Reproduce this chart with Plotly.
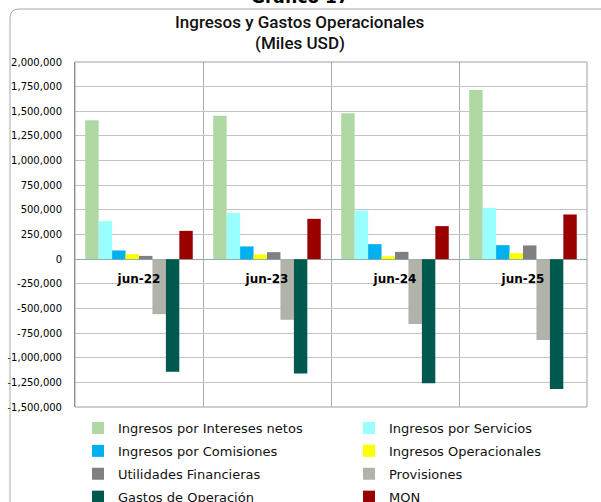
import plotly.graph_objects as go

categories = ["jun-22", "jun-23", "jun-24", "jun-25"]

series_names = [
    "Ingresos por Intereses netos",
    "Ingresos por Servicios",
    "Ingresos por Comisiones",
    "Ingresos Operacionales",
    "Utilidades Financieras",
    "Provisiones",
    "Gastos de Operación",
    "MON",
]

intereses_netos = [1410000, 1455000, 1480000, 1715000]
servicios = [385000, 470000, 494000, 520000]
comisiones = [88000, 129000, 152000, 142000]
operacionales = [50000, 48000, 30000, 61000]
utilidades_fin = [33000, 71000, 74000, 139000]
provisiones = [-558000, -615000, -659000, -821000]
gastos_operacion = [-1143000, -1160000, -1258000, -1318000]
mon = [287000, 409000, 335000, 453000]

series_values = [intereses_netos, servicios, comisiones, operacionales,
                 utilidades_fin, provisiones, gastos_operacion, mon]

colors = ["#B0D8A4", "#99FFFF", "#00B0F0", "#FFFF00",
          "#808080", "#B2B2A8", "#00594E", "#990000"]

tick_vals = list(range(-1500000, 2000001, 250000))
tick_text = [f"{v:,}" for v in tick_vals]

title_lines = ["Ingresos y Gastos Operacionales", "(Miles USD)"]
heading = "Gráfico 17"

FONT = "DejaVu Sans"
TITLE_FONT = "Roboto"

fig = go.Figure()
for i, (name, vals, col) in enumerate(zip(series_names, series_values, colors)):
    fig.add_trace(go.Bar(name=name, x=categories, y=vals,
                         marker=dict(color=col, line=dict(width=0)),
                         legend="legend" if i % 2 == 0 else "legend2",
                         legendgroup=f"g{i}"))

W, H = 601, 502
L, R, T, B = 75, 14, 62, 95
pw, ph = W - L - R, H - T - B

def px_x(p):
    return (p - L) / pw

def px_y(p):
    return (H - B - p) / ph

zero_pos = 1500000 / 3500000

legend_common = dict(orientation="v", yanchor="top", xanchor="left",
                     tracegroupgap=3, traceorder="grouped",
                     font=dict(family=FONT, size=13, color="#111"),
                     bgcolor="rgba(0,0,0,0)")

fig.update_layout(
    width=W, height=H,
    margin=dict(l=L, r=R, t=T, b=B, autoexpand=False),
    paper_bgcolor="white", plot_bgcolor="white",
    barmode="group", bargap=0.16, bargroupgap=0,
    font=dict(family=FONT, color="black"),
    showlegend=True,
    legend=dict(x=px_x(78), y=px_y(413), **legend_common),
    legend2=dict(x=px_x(349), y=px_y(413), **legend_common),
    xaxis=dict(type="category", anchor="free", position=zero_pos,
               showline=False, ticks="", tickson="boundaries",
               showgrid=True, gridcolor="#ADADAD", gridwidth=1,
               tickfont=dict(family=FONT, size=12, color="black", weight="bold"),
               ticklabelstandoff=11, zeroline=False, automargin=False),
    yaxis=dict(range=[-1500000, 2000000], tickvals=tick_vals, ticktext=tick_text,
               showgrid=True, gridcolor="#C4C4C4", gridwidth=1,
               zeroline=True, zerolinecolor="#88AAAA", zerolinewidth=1,
               showline=True, linecolor="#808080", linewidth=1,
               ticks="",
               tickfont=dict(family=FONT, size=10, color="black"),
               ticklabelstandoff=10, automargin=False),
)

# title lines
fig.add_annotation(text=title_lines[0], xref="paper", yref="paper",
                   x=px_x(300), y=px_y(22), xanchor="center", yanchor="middle",
                   showarrow=False,
                   font=dict(family=TITLE_FONT, size=17, color="#111", weight=500))
fig.add_annotation(text=title_lines[1], xref="paper", yref="paper",
                   x=px_x(300), y=px_y(43), xanchor="center", yanchor="middle",
                   showarrow=False,
                   font=dict(family=TITLE_FONT, size=17, color="#111", weight=500))

# plot border
fig.add_shape(type="rect", xref="paper", yref="paper", x0=0, x1=1, y0=0, y1=1,
              line=dict(color="#A0A0A0", width=1), fillcolor="rgba(0,0,0,0)", layer="above")

# outer rounded frame (extends beyond the visible canvas on right and bottom)
x0, y0 = px_x(10), px_y(9)
rx, ry = 9 / pw, 9 / ph
xr, yb = px_x(640), px_y(540)
path = (f"M {x0},{yb} L {x0},{y0 - ry} Q {x0},{y0} {x0 + rx},{y0} L {xr},{y0}")
fig.add_shape(type="path", xref="paper", yref="paper", path=path,
              line=dict(color="#A8A8A8", width=1))

# chart number heading, cut off by the top edge as in the source
fig.add_annotation(text=f"<b>{heading}</b>", xref="paper", yref="paper",
                   x=px_x(300), y=px_y(9), xanchor="center", yanchor="bottom",
                   showarrow=False, font=dict(family=FONT, size=17, color="black"))

fig.write_html("out.html", config={"displayModeBar": False},
               post_script="document.body.style.margin='0';")
